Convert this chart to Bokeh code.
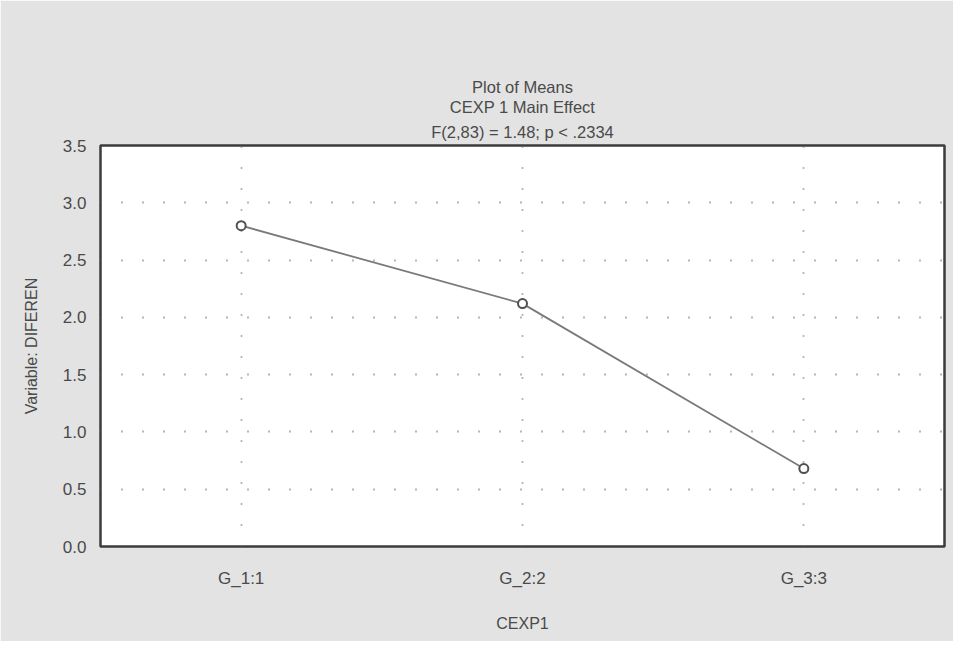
from bokeh.plotting import figure
from bokeh.models import FactorRange, Range1d, Title, FixedTicker, NumeralTickFormatter
from bokeh.embed import file_html
from bokeh.resources import INLINE

categories = ["G_1:1", "G_2:2", "G_3:3"]
means = [2.80, 2.12, 0.68]
y_ticks = [0.0, 0.5, 1.0, 1.5, 2.0, 2.5, 3.0, 3.5]
title_lines = ["Plot of Means", "CEXP 1 Main Effect", "F(2,83) = 1.48; p < .2334"]
x_label = "CEXP1"
y_label = "Variable: DIFEREN"

FONT = "Liberation Sans"
TXT = "#4a4a4a"
BG = "#e3e3e3"

p = figure(width=953, height=641, x_range=FactorRange(factors=categories),
           y_range=Range1d(0, 3.5), output_backend="svg", toolbar_location=None,
           min_border_left=100, min_border_right=9, min_border_top=145, min_border_bottom=95)
p.title.text = ""
p.title.visible = False
p.background_fill_color = "white"
p.border_fill_color = BG
p.outline_line_color = "#3c3c3c"
p.outline_line_width = 2.5

for i, line in enumerate(reversed(title_lines)):
    t = Title(text=line, align="center", text_font=FONT, text_font_size="16.5px",
              text_font_style="normal", text_color=TXT, standoff=0 if i else 10,
              text_line_height=1.0)
    p.add_layout(t, "above")

# grids
p.xgrid.grid_line_color = "#6e6e6e"
p.xgrid.grid_line_dash = "1 20"
p.xgrid.grid_line_width = 1.8
p.ygrid.grid_line_color = "#6e6e6e"
p.ygrid.grid_line_dash = "1 20"
p.ygrid.grid_line_width = 1.8
p.yaxis.ticker = FixedTicker(ticks=y_ticks)
p.yaxis.formatter = NumeralTickFormatter(format="0.0")

for ax in (p.xaxis, p.yaxis):
    ax.axis_line_color = None
    ax.major_tick_line_color = None
    ax.minor_tick_line_color = None
    ax.major_tick_out = 0
    ax.major_tick_in = 0
    ax.major_label_text_font = FONT
    ax.major_label_text_font_size = "17px"
    ax.major_label_text_color = TXT
    ax.axis_label_text_font = FONT
    ax.axis_label_text_font_size = "16px"
    ax.axis_label_text_font_style = "normal"
    ax.axis_label_text_color = TXT

p.xaxis.axis_label = x_label
p.yaxis.axis_label = y_label
p.xaxis.major_label_standoff = 22
p.xaxis.axis_label_standoff = 24
p.yaxis.major_label_standoff = 14
p.yaxis.axis_label_standoff = 20

p.line(categories, means, line_color="#7a7a7a", line_width=1.8)
p.scatter(categories, means, marker="circle", size=9, fill_color="white",
          line_color="#505050", line_width=2)

open("out.html", "w").write(file_html(p, INLINE))
